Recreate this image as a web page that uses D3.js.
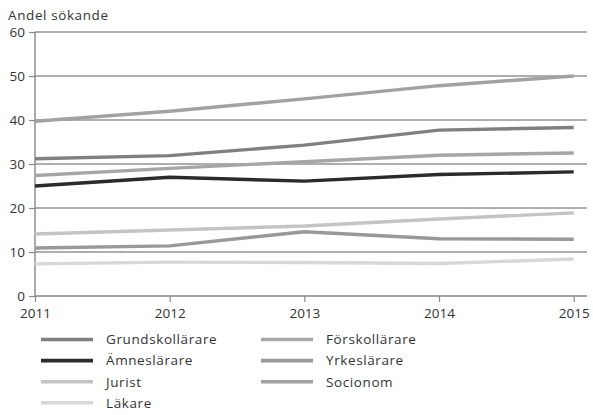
<!DOCTYPE html>
<html><head><meta charset="utf-8">
<script src="https://cdn.jsdelivr.net/npm/d3@7"></script>
<style>
html,body{margin:0;padding:0;background:#fff;}
svg text{font-family:"Open Sans",sans-serif;fill:#333;}
</style></head>
<body><svg id="c" width="593" height="415"></svg>
<script>
const years = [2011, 2012, 2013, 2014, 2015];
const yTicks = [0, 10, 20, 30, 40, 50, 60];
const seriesNames = ["Grundskollärare", "Förskollärare", "Ämneslärare", "Yrkeslärare", "Jurist", "Socionom", "Läkare"];
const grundskollarare = [31.2, 31.9, 34.3, 37.7, 38.3];
const forskollarare = [27.4, 29.0, 30.5, 32.0, 32.5];
const amneslarare = [25.0, 27.0, 26.1, 27.6, 28.2];
const yrkeslarare = [10.9, 11.4, 14.6, 13.0, 12.9];
const jurist = [14.1, 15.0, 15.9, 17.5, 18.9];
const socionom = [39.7, 42.0, 44.8, 47.8, 50.0];
const lakare = [7.3, 7.7, 7.6, 7.4, 8.4];
const seriesValues = [grundskollarare, forskollarare, amneslarare, yrkeslarare, jurist, socionom, lakare];
const colors = ["#808080", "#a6a6a6", "#2b2b2b", "#999999", "#c4c4c4", "#a2a2a2", "#d8d8d8"];

const svg = d3.select("#c");
const x = d3.scaleLinear().domain([2011, 2015]).range([35, 573.7]);
const y = d3.scaleLinear().domain([0, 60]).range([296, 32]);
const xEnd = 587;

// title
svg.append("text").attr("x", 8).attr("y", 19.5).attr("font-size", 13.5)
  .attr("letter-spacing", "0.6px").text("Andel sökande");

// grid
svg.append("g").selectAll("line").data(yTicks.filter(d => d > 0)).join("line")
  .attr("x1", 35).attr("x2", xEnd).attr("y1", d => y(d)).attr("y2", d => y(d))
  .attr("stroke", "#5e5e5e").attr("stroke-width", 1.2);

// y axis
const ya = svg.append("g").attr("transform", "translate(35,0)")
  .call(d3.axisLeft(y).tickValues(yTicks).tickSize(6).tickPadding(4));
ya.select(".domain").attr("stroke", "#888").attr("stroke-width", 1.4).attr("d", `M0,${y(60)}V${y(0)}`);
ya.selectAll(".tick line").attr("stroke", "#888").attr("stroke-width", 1.2);
ya.selectAll(".tick text").attr("font-size", 13.5).attr("fill", "#333").attr("font-family", "Open Sans, sans-serif").attr("dy", "0.36em");

// x axis
const xa = svg.append("g").attr("transform", "translate(0,296)")
  .call(d3.axisBottom(x).tickValues(years).tickFormat(d3.format("d")).tickSize(6).tickPadding(6.5));
xa.select(".domain").attr("stroke", "#888").attr("stroke-width", 1.4).attr("d", `M35,0H${xEnd}`);
xa.selectAll(".tick line").attr("stroke", "#888").attr("stroke-width", 1.2);
xa.selectAll(".tick text").attr("font-size", 13.5).attr("fill", "#333").attr("font-family", "Open Sans, sans-serif");

// lines
const line = d3.line().x((d, i) => x(years[i])).y(d => y(d));
const drawOrder = [6, 4, 3, 1, 5, 0, 2];
svg.append("g").selectAll("path").data(drawOrder).join("path")
  .attr("d", i => line(seriesValues[i]))
  .attr("fill", "none").attr("stroke", i => colors[i]).attr("stroke-width", 3.4)
  .attr("stroke-linejoin", "round");

// legend
const legendPos = [[0,0],[1,0],[0,1],[1,1],[0,2],[1,2],[0,3]];
const lg = svg.append("g").selectAll("g").data(seriesNames).join("g")
  .attr("transform", (d, i) => `translate(${legendPos[i][0] ? 261 : 41},${339.5 + legendPos[i][1] * 21.1})`);
lg.append("line").attr("x1", 0).attr("x2", 52).attr("y1", 0).attr("y2", 0)
  .attr("stroke", (d, i) => colors[i]).attr("stroke-width", 3.6);
lg.append("text").attr("x", 65).attr("y", 0).attr("dy", "0.36em").attr("font-size", 13.5)
  .attr("letter-spacing", "0.6px").text(d => d);
</script></body></html>
